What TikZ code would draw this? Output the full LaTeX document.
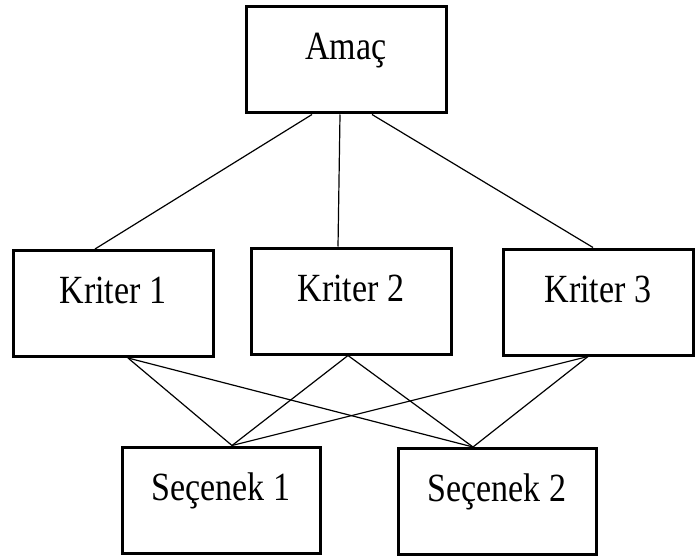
\documentclass[tikz,border=0pt]{standalone}
\usepackage{fontspec}
\setmainfont{Liberation Serif}
\newfontfamily\boxfont[FakeStretch=0.85]{Liberation Serif}
\usepackage{tikz}

\begin{document}
\begin{tikzpicture}[x=1pt, y=-1pt,
  box/.style={draw, rectangle, line width=3pt, minimum width=200pt, minimum height=106pt,
    inner sep=0pt, text height=20pt, text depth=20pt, font=\boxfont\fontsize{40}{44}\selectfont},
  link/.style={line width=1.2pt}]
\useasboundingbox (0,0) rectangle (695,556);

% Nodes
\node[box] (amac) at (346,60) {Amaç};

\node[box] (k1) at (113,303.5) {Kriter 1};
\node[box] (k2) at (351,301) {Kriter 2};
\node[box, minimum width=190pt] (k3) at (598,302) {Kriter 3};

\node[box, minimum width=198pt] (s1) at (221,500) {Seçenek 1};
\node[box, minimum width=198pt] (s2) at (497,501.5) {Seçenek 2};

% Lines from the goal
\draw[link] ([xshift=-34pt]amac.south) -- ([xshift=-18pt]k1.north);
\draw[link] ([xshift=-6pt]amac.south) -- ([xshift=-13pt]k2.north);
\draw[link] ([xshift=26pt]amac.south) -- ([xshift=-5pt]k3.north);

% Lines to the alternatives
\coordinate (s1top) at ([xshift=11pt]s1.north);
\coordinate (s2top) at ([xshift=-24pt]s2.north);
\foreach \k/\dx in {k1/15, k2/-3, k3/-10} {
  \draw[link] ([xshift=\dx pt]\k.south) -- (s1top);
  \draw[link] ([xshift=\dx pt]\k.south) -- (s2top);
}

\end{tikzpicture}
\end{document}
